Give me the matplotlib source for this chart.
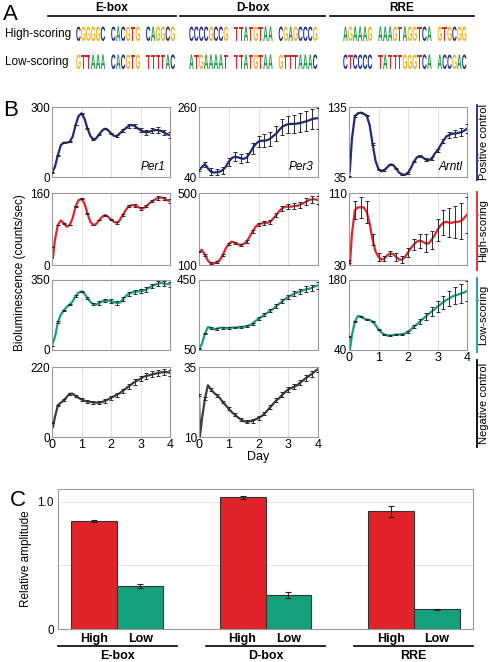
import numpy as np
import matplotlib
matplotlib.use("Agg")
import matplotlib.pyplot as plt
from matplotlib.textpath import TextPath
from matplotlib.patches import PathPatch
from matplotlib.font_manager import FontProperties
from matplotlib.transforms import Affine2D, blended_transform_factory

plt.rcParams['font.family'] = ['Liberation Sans', 'DejaVu Sans']

# ---------------- data ----------------
# Panel A: motif sequences
MOTIFS = ['E-box', 'D-box', 'RRE']
HIGH_SEQS = [['CGGGGC', 'CACGTG', 'CAGGCG'],
             ['CCCCGCCG', 'TTATGTAA', 'CGAGCCCG'],
             ['AGAAAG', 'AAAGTAGGTCA', 'GTGCGG']]
LOW_SEQS = [['GTTAAA', 'CACGTG', 'TTTTAC'],
            ['ATGAAAAT', 'TTATGTAA', 'GTTTAAAC'],
            ['CTCCCC', 'TATTTGGGTCA', 'ACCGAC']]

# Panel B: bioluminescence traces (counts/sec) vs day
DAYS = np.array([0, 0.03] + [round(0.1 * k, 1) for k in range(1, 41)])
ERR_DAYS = np.array([round(0.2 * k, 1) for k in range(21)])

PER1_POS = [18, 25, 44, 94, 137, 147, 147, 151, 173, 223, 261, 273,
            251, 209, 176, 161, 166, 183, 199, 207, 201, 187,
            176, 176, 187, 199, 209, 219, 223, 219, 209, 201,
            194, 191, 194, 199, 201, 201, 197, 191, 184, 179]
PER3_POS = [62, 65, 72, 80, 67, 57, 54, 55, 57, 62, 72, 88,
            99, 104, 102, 99, 97, 101, 114, 130, 143, 151,
            154, 154, 156, 161, 169, 177, 188, 198, 203, 206,
            207, 207, 208, 210, 212, 215, 218, 222, 224, 225]
ARNTL_POS = [36, 45, 90, 122, 126, 127, 125, 123, 109, 82, 58, 46,
             43, 45, 49, 53, 52, 47, 41, 39, 38, 41,
             48, 57, 63, 65, 63, 60, 59, 61, 68, 73,
             80, 87, 93, 95, 97, 97, 98, 99, 101, 104]

PER1_HIGH = [40, 15, 56, 89, 99, 93, 85, 89, 104, 130, 144, 147,
             137, 115, 96, 89, 91, 100, 107, 111, 107, 101,
             96, 94, 100, 111, 122, 131, 133, 132, 130, 126,
             126, 131, 137, 142, 146, 149, 150, 148, 144, 142]
PER3_HIGH = [174, 180, 183, 156, 124, 109, 109, 115, 128, 156, 193, 217,
             230, 224, 215, 211, 217, 230, 257, 285, 313, 326,
             331, 333, 335, 341, 359, 378, 400, 415, 424, 424,
             424, 428, 428, 435, 443, 452, 461, 465, 465, 461]
ARNTL_HIGH = [34, 30, 65, 91, 94, 94, 94, 89, 76, 58, 45, 39,
              36, 37, 41, 43, 42, 39, 36, 36, 39, 44,
              49, 53, 56, 57, 56, 54, 54, 58, 63, 69,
              74, 77, 78, 77, 77, 78, 78, 79, 82, 86]

PER1_LOW = [20, 35, 65, 140, 177, 198, 215, 227, 243, 270, 287, 293,
            282, 260, 240, 230, 228, 235, 243, 248, 247, 243,
            240, 235, 237, 253, 270, 280, 287, 290, 293, 295,
            297, 303, 313, 320, 327, 332, 335, 332, 330, 328]
PER3_LOW = [58, 65, 86, 143, 181, 176, 168, 172, 178, 176, 176, 176,
            178, 178, 180, 181, 183, 185, 191, 200, 216, 229,
            239, 252, 263, 275, 286, 301, 315, 328, 343, 353,
            362, 372, 378, 385, 391, 397, 400, 406, 414, 420]
ARNTL_LOW = [67, 40, 70, 97, 108, 107, 103, 101, 100, 97, 90, 81,
             75, 71, 69, 69, 70, 71, 71, 72, 73, 77,
             81, 87, 91, 97, 102, 107, 112, 117, 121, 127,
             131, 136, 140, 143, 147, 149, 151, 153, 155, 158]

PER1_NEG = [45, 30, 63, 100, 108, 115, 126, 136, 136, 129, 123, 118,
            114, 112, 110, 109, 108, 108, 110, 114, 118, 123,
            128, 133, 138, 145, 152, 159, 166, 173, 178, 183,
            189, 192, 194, 197, 199, 201, 203, 204, 204, 202]
PER3_NEG = [25, 10, 16.5, 23.7, 28.5, 27.0, 25.8, 24.9, 23.9, 22.5, 21.3, 20.1,
            18.9, 18.0, 17.1, 16.3, 15.7, 15.4, 15.6, 15.7, 16.3, 16.8,
            17.4, 18.3, 19.5, 20.7, 21.9, 23.1, 23.9, 25.1, 26.1, 27.0,
            27.5, 27.9, 28.5, 29.4, 30.2, 31.1, 31.8, 32.6, 33.5, 34.2]

# error bars (SEM) at every 0.2 day
PER1_POS_ERR = [2, 2, 2, 2, 2, 2, 2, 2, 2, 2, 3, 3, 8, 8, 10, 10, 10, 12, 12, 12, 12]
PER3_POS_ERR = [3, 8, 10, 10, 11, 12, 14, 14, 15, 17, 18, 20, 22, 24, 25, 27, 28, 30, 31, 32, 33]
ARNTL_POS_ERR = [1, 1, 1, 1, 1, 1, 1, 1, 1, 1, 1, 1, 1, 1.5, 2, 2, 3, 4, 5, 6, 6]
PER1_HIGH_ERR = [1, 1, 1, 1, 1, 1, 1, 1, 1, 1, 2, 2, 2, 3, 3, 3, 3, 3, 4, 4, 4]
PER3_HIGH_ERR = [3, 5, 5, 5, 6, 6, 6, 7, 8, 8, 10, 10, 11, 12, 13, 15, 16, 17, 18, 20, 22]
ARNTL_HIGH_ERR = [2, 10, 12, 12, 6, 4, 3, 3, 4, 4, 5, 6, 8, 10, 10, 12, 14, 16, 18, 20, 20]
PER1_LOW_ERR = [2, 3, 3, 3, 4, 4, 5, 6, 8, 8, 10, 10, 10, 10, 10, 12, 12, 12, 12, 12, 12]
PER3_LOW_ERR = [3, 4, 4, 5, 5, 5, 5, 6, 6, 7, 8, 8, 10, 10, 12, 12, 14, 15, 16, 18, 20]
ARNTL_LOW_ERR = [1, 1, 1, 1, 1, 1, 1, 1, 1, 1, 2, 3, 5, 7, 9, 11, 13, 15, 17, 19, 20]
PER1_NEG_ERR = [2, 2, 3, 3, 3, 4, 4, 5, 5, 6, 6, 6, 7, 7, 8, 8, 9, 9, 10, 10, 10]
PER3_NEG_ERR = [0.3, 0.5, 0.5, 0.5, 0.5, 0.5, 0.5, 0.5, 0.5, 0.6, 0.6, 0.6, 0.7, 0.7,
                0.8, 0.8, 0.9, 1.0, 1.0, 1.0, 1.0]

GENES = ['Per1', 'Per3', 'Arntl']
ROW_NAMES = ['Positive control', 'High-scoring', 'Low-scoring', 'Negative control']

# Panel C: relative amplitude
HIGH_AMP = [0.848, 1.034, 0.924]
HIGH_ERR = [0.006, 0.012, 0.045]
LOW_AMP = [0.341, 0.265, 0.155]
LOW_ERR = [0.015, 0.025, 0.003]

# ---------------- style ----------------
NAVY = '#1c2a80'
RED = '#e0242a'
TEAL = '#13a07c'
GRAY = '#3c3c3c'
BASE_COLORS = {'A': '#1f9a48', 'C': '#1f2a8c', 'G': '#f2b21c', 'T': '#d6262b'}
SPINE = '#9a9a9a'

W, H = 490, 662
fig = plt.figure(figsize=(W / 100, H / 100), dpi=100)


def rect(x0, y0, x1, y1):
    return [x0 / W, 1 - y1 / H, (x1 - x0) / W, (y1 - y0) / H]


over = fig.add_axes([0, 0, 1, 1])
over.set_xlim(0, W)
over.set_ylim(H, 0)
over.axis('off')

# ---------------- Panel A ----------------
LOGO_FONT = FontProperties(family='Liberation Sans', weight='bold')


def draw_letter(ax, ch, x0, y_top, w, h, color):
    tp = TextPath((0, 0), ch, size=10, prop=LOGO_FONT)
    bb = tp.get_extents()
    tr = (Affine2D().translate(-bb.x0, -bb.y0)
          .scale(w / bb.width, -h / bb.height)
          .translate(x0, y_top + h))
    ax.add_patch(PathPatch(tr.transform_path(tp), fc=color, ec='none'))


over.text(3, 15, 'A', fontsize=16, va='center', ha='left')
header_spans = [(48, 176), (180, 325), (330, 474)]
seq_starts = [76, 189, 343]
step, gap = 4.9, 5.5
for name, (x0, x1), xs, hs, ls in zip(MOTIFS, header_spans, seq_starts, HIGH_SEQS, LOW_SEQS):
    over.text((x0 + x1) / 2, 8, name, fontsize=8.5, fontweight='bold', ha='center', va='center')
    over.plot([x0, x1], [15.5, 15.5], color='black', lw=1.2)
    for seqs, ytop in ((hs, 26.5), (ls, 54.5)):
        x = xs
        for s in seqs:
            for ch in s:
                draw_letter(over, ch, x + 0.25, ytop, step - 0.5, 14.5, BASE_COLORS[ch])
                x += step
            x += gap
over.text(5, 34, 'High-scoring', fontsize=8.5, va='center', ha='left')
over.text(5, 62, 'Low-scoring', fontsize=8.5, va='center', ha='left')

# ---------------- Panel B ----------------
COL_X = [(52, 170), (199, 318), (349, 467)]
ROW_Y = [(107, 177), (193, 265), (280, 350), (367, 437)]
panels = [
    (0, 0, PER1_POS, PER1_POS_ERR, (0, 300), NAVY),
    (0, 1, PER3_POS, PER3_POS_ERR, (40, 260), NAVY),
    (0, 2, ARNTL_POS, ARNTL_POS_ERR, (35, 135), NAVY),
    (1, 0, PER1_HIGH, PER1_HIGH_ERR, (0, 160), RED),
    (1, 1, PER3_HIGH, PER3_HIGH_ERR, (100, 500), RED),
    (1, 2, ARNTL_HIGH, ARNTL_HIGH_ERR, (30, 110), RED),
    (2, 0, PER1_LOW, PER1_LOW_ERR, (0, 350), TEAL),
    (2, 1, PER3_LOW, PER3_LOW_ERR, (50, 450), TEAL),
    (2, 2, ARNTL_LOW, ARNTL_LOW_ERR, (40, 180), TEAL),
    (3, 0, PER1_NEG, PER1_NEG_ERR, (0, 220), GRAY),
    (3, 1, PER3_NEG, PER3_NEG_ERR, (10, 35), GRAY),
]
bottom_axes = {(3, 0), (3, 1), (2, 2)}
err_idx = [int(np.argmin(np.abs(DAYS - d))) for d in ERR_DAYS]

for r, c, vals, errs, lims, color in panels:
    (x0, x1), (y0, y1) = COL_X[c], ROW_Y[r]
    ax = fig.add_axes(rect(x0, y0, x1, y1))
    vals = np.asarray(vals, dtype=float)
    ax.plot(DAYS, vals, color=color, lw=1.6, zorder=2, solid_joinstyle='round')
    ax.errorbar(ERR_DAYS, vals[err_idx], yerr=errs, fmt='none', ecolor='#2a2a2a',
                elinewidth=0.7, capsize=1.3, capthick=0.7, zorder=3)
    ax.set_xlim(0, 4)
    ax.set_ylim(*lims)
    ax.set_yticks(lims)
    ax.set_yticklabels([f'{v:g}' for v in lims])
    ax.set_xticks([0, 1, 2, 3, 4])
    ax.grid(axis='x', color='#dcdcdc', lw=0.6)
    ax.set_axisbelow(True)
    if (r, c) not in bottom_axes:
        ax.set_xticklabels([])
    ax.tick_params(axis='y', length=0, labelsize=8.5, pad=1.5)
    ax.tick_params(axis='x', length=0, labelsize=9, pad=1.5)
    for sp in ax.spines.values():
        sp.set_color(SPINE)
        sp.set_linewidth(0.8)
    if r == 0:
        ax.text(0.96, 0.06, GENES[c], transform=ax.transAxes, fontsize=8.5,
                style='italic', ha='right', va='bottom')

over.text(3, 110, 'B', fontsize=16, va='center', ha='left')
over.text(20, 273, 'Bioluminescence (counts/sec)', fontsize=8.5, rotation=90,
          ha='center', va='center')
over.text(258, 457, 'Day', fontsize=9, ha='center', va='center')

row_label_spans = [(105, 180), (192, 270), (278, 352), (360, 447)]
row_colors = [NAVY, RED, TEAL, 'black']
for name, (ya, yb), col in zip(ROW_NAMES, row_label_spans, row_colors):
    over.plot([477, 477], [ya, yb], color=col, lw=1.3)
    over.text(483.5, (ya + yb) / 2, name, fontsize=8, rotation=90, ha='center', va='center')

# ---------------- Panel C ----------------
axc = fig.add_axes(rect(58, 489, 473, 629))
x = np.arange(len(MOTIFS))
bw = 0.31
ekw = dict(ecolor='#222222', elinewidth=0.8, capsize=2, capthick=0.8)
axc.bar(x - bw / 2, HIGH_AMP, bw, yerr=HIGH_ERR, color=RED, edgecolor='#333333',
        linewidth=0.8, error_kw=ekw, zorder=2)
axc.bar(x + bw / 2, LOW_AMP, bw, yerr=LOW_ERR, color=TEAL, edgecolor='#333333',
        linewidth=0.8, error_kw=ekw, zorder=2)
axc.set_xlim(-0.4, 2.4)
axc.set_ylim(0, 1.1)
axc.set_yticks([0, 0.5, 1.0])
axc.set_yticklabels(['0', '', '1.0'])
axc.grid(axis='y', color='#e4e4e4', lw=0.7)
axc.set_axisbelow(True)
axc.set_xticks(np.concatenate([x - bw / 2, x + bw / 2]))
axc.set_xticklabels(['High'] * 3 + ['Low'] * 3, fontweight='bold')
axc.tick_params(axis='x', length=0, labelsize=9, pad=3)
axc.tick_params(axis='y', length=0, labelsize=8.5, pad=3)
for sp in axc.spines.values():
    sp.set_color(SPINE)
    sp.set_linewidth(0.8)
axc.set_ylabel('Relative amplitude', fontsize=8.5, labelpad=4)

blend = blended_transform_factory(axc.transData, axc.transAxes)
for g, name in zip(x, MOTIFS):
    axc.plot([g - 0.4, g + 0.4], [-0.121, -0.121], color='black', lw=1.2,
             transform=blend, clip_on=False)
    axc.text(g, -0.19, name, transform=blend, fontsize=9, fontweight='bold',
             ha='center', va='center')

over.text(10, 501, 'C', fontsize=16, va='center', ha='left')

fig.savefig('out.png', dpi=100)
